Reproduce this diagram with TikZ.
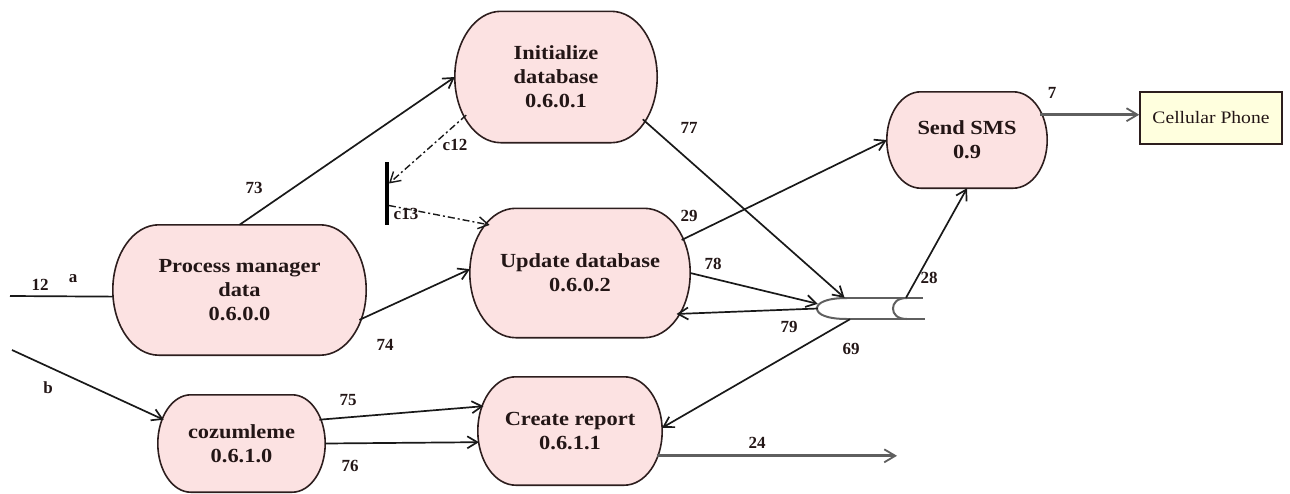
\documentclass[tikz,border=0pt]{standalone}
\usepackage{fontspec}
\setmainfont{Liberation Serif}
\newfontfamily\procfont[FakeStretch=1.12]{Liberation Serif}
\usetikzlibrary{arrows.meta,shapes.misc,calc}

\definecolor{procfill}{RGB}{252,226,226}
\definecolor{procline}{RGB}{45,30,30}
\definecolor{inkdark}{RGB}{35,22,22}
\definecolor{notefill}{RGB}{255,255,222}
\definecolor{pipegray}{RGB}{95,95,95}

\pgfdeclarelayer{background}
\pgfsetlayers{background,main}

% outline of a process: flat top and bottom, half-elliptical ends
\newcommand\procoutline[2]{%
  \path[procshape] let \p1=(#1.west), \p2=(#1.east), \p3=(#1.north), \p4=(#1.south),
      \n1={(\y3-\y4)/2} in
    (\x1+#2,\y3) -- (\x2-#2,\y3)
    arc[start angle=90, end angle=-90, x radius=#2, y radius=\n1]
    -- (\x1+#2,\y4)
    arc[start angle=270, end angle=90, x radius=#2, y radius=\n1] -- cycle;}

\begin{document}
\begin{tikzpicture}[x=1pt,y=-1pt,
  process/.style={rounded rectangle, rounded rectangle arc length=143,
    draw=none, align=center, inner sep=0pt,
    font=\procfont\bfseries\fontsize{20}{24}\selectfont, text=inkdark},
  procshape/.style={draw=procline, line width=1.6pt, fill=procfill},
  terminal/.style={rectangle, draw=procline, line width=1.5pt, fill=notefill,
    inner sep=0pt, font=\procfont\fontsize{17.5}{18}\selectfont, text=inkdark},
  lbl/.style={inner sep=0pt, font=\bfseries\fontsize{17}{17}\selectfont, text=inkdark},
  flow/.style={line width=1.7pt, draw=black!90, -{Straight Barb[length=10pt,width=12pt]}},
  plainflow/.style={line width=1.7pt, draw=black!90},
  ctrl/.style={line width=1.4pt, draw=black!90, dash pattern=on 7pt off 3pt on 2pt off 3pt,
    -{Straight Barb[length=10pt,width=12pt]}},
  heavy/.style={line width=3pt, draw=pipegray, -{Straight Barb[length=11pt,width=13pt,line width=1.8pt]}},
  pipe/.style={line width=2pt, draw=pipegray}
]
\path[use as bounding box] (0,0) rectangle (1290,493);

% processes
\node[process, minimum width=202pt, minimum height=131pt] (init) at (556,77)
  {Initialize\\database\\0.6.0.1};
\node[process, minimum width=253pt, minimum height=130pt] (pmd) at (239.5,290)
  {Process manager\\data\\0.6.0.0};
\node[process, minimum width=220pt, minimum height=129pt] (upd) at (580,273)
  {Update database\\0.6.0.2};
\node[process, minimum width=160pt, minimum height=96pt] (sms) at (967,140)
  {Send SMS\\0.9};
\node[process, minimum width=167pt, minimum height=97pt] (coz) at (241.5,443.5)
  {cozumleme\\0.6.1.0};
\node[process, minimum width=184pt, minimum height=108pt] (crt) at (570,431)
  {Create report\\0.6.1.1};

\begin{pgfonlayer}{background}
  \procoutline{init}{46pt}
  \procoutline{pmd}{46pt}
  \procoutline{upd}{46pt}
  \procoutline{sms}{34pt}
  \procoutline{coz}{33pt}
  \procoutline{crt}{38pt}
\end{pgfonlayer}

% external entity
\node[terminal, minimum width=142pt, minimum height=52pt] (cell) at (1211,118) {Cellular Phone};

% synchronisation bar
\node[fill=black, minimum width=3.5pt, minimum height=63pt, inner sep=0pt] (bar) at (387,193.5) {};

% data store (pipe)
\node[minimum width=106pt, minimum height=21pt, inner sep=0pt] (store) at (871,308.5) {};
\draw[pipe] (847,298) -- (923,298) (847,319) -- (925,319);
\draw[pipe] (847,298) .. controls (826,298) and (817,303) .. (817,308.5)
  .. controls (817,314) and (826,319) .. (847,319);
\draw[pipe] (907,298) .. controls (897,298) and (893,303) .. (893,308.5)
  .. controls (893,314) and (897,319) .. (907,319);

% free ends
\coordinate (inA) at (10,296);
\coordinate (inB) at (12,350);
\coordinate (out24) at (897,457);

% connectors
\draw[plainflow] (inA) -- (pmd.183);
\draw[flow] (inB) -- (coz.163);
\draw[flow] (pmd.north) -- (init.west);
\draw[flow] (pmd.-14) -- (upd.178);
\draw[ctrl] (init.203) -- ($(bar.east)+(0,-10)$);
\draw[ctrl] ($(bar.east)+(0,12)$) -- (upd.152);
\draw[flow] (init.-26) -- (store.158);
\draw[flow] (upd.18) -- (sms.west);
\draw[flow] (upd.east) -- (store.175);
\draw[flow] (store.west) -- (upd.-23);
\draw[flow] (store.17) -- (sms.south);
\draw[flow] (store.207) -- (crt.2);
\draw[flow] (coz.17) -- (crt.164);
\draw[flow] (coz.east) -- (crt.187);
\draw[heavy] (crt.-16) -- (crt.-16 -| out24);
\draw[heavy] (sms.19) -- (sms.19 -| cell.west);

% labels
\node[lbl] at (40,285) {12};
\node[lbl] at (73,279) {a};
\node[lbl] at (48,388) {b};
\node[lbl] at (254,188) {73};
\node[lbl] at (385,345) {74};
\node[lbl] at (455,145) {c12};
\node[lbl] at (406,214) {c13};
\node[lbl] at (689,128) {77};
\node[lbl] at (689,216) {29};
\node[lbl] at (713,264) {78};
\node[lbl] at (789,327) {79};
\node[lbl] at (851,349) {69};
\node[lbl] at (929,278) {28};
\node[lbl] at (1052,93) {7};
\node[lbl] at (348,400) {75};
\node[lbl] at (350,466) {76};
\node[lbl] at (757,443) {24};
\end{tikzpicture}
\end{document}
